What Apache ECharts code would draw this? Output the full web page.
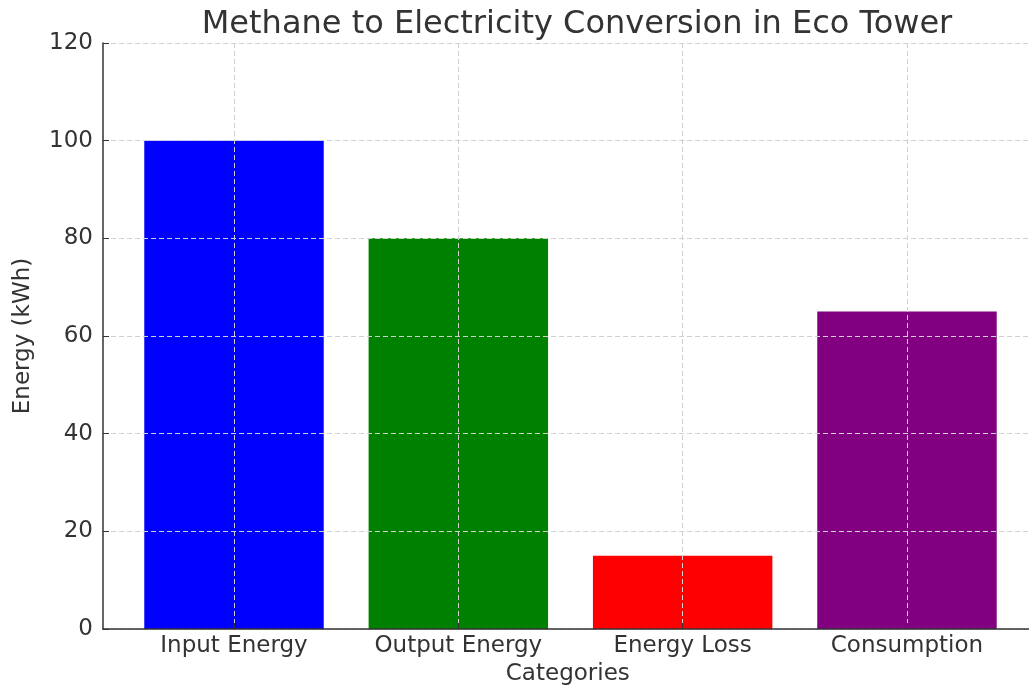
<!DOCTYPE html>
<html>
<head>
<meta charset="utf-8">
<script src="https://cdn.jsdelivr.net/npm/echarts@6/dist/echarts.min.js"></script>
<style>
  html, body { margin: 0; padding: 0; background: #fff; }
  #main { width: 1029px; height: 686px; }
</style>
</head>
<body>
<div id="main"></div>
<script>
// chart data
const categories = ['Input Energy', 'Output Energy', 'Energy Loss', 'Consumption']
const energyValues = [100, 80, 15, 65]
const yTicks = [0, 20, 40, 60, 80, 100, 120]

const barColors = ['#0000ff', '#008000', '#ff0000', '#800080']
const font = 'DejaVu Sans'
const gridLine = { show: true, lineStyle: { color: '#d0d0d0', type: [5, 3], width: 1 } }

let myChart = echarts.init(document.getElementById('main'))
let option = {
  animation: false,
  title: {
    text: 'Methane to Electricity Conversion in Eco Tower',
    left: 572,
    textAlign: 'center',
    top: 4,
    textStyle: { fontFamily: font, fontSize: 32, fontWeight: 'normal', color: '#333' }
  },
  grid: { left: 103, right: -3.6, top: 43, bottom: 57, containLabel: false, outerBoundsMode: 'none' },
  xAxis: {
    type: 'value',
    min: -0.584,
    max: 3.56,
    z: 5,
    name: 'Categories',
    nameLocation: 'middle',
    nameGap: 32,
    nameTextStyle: { fontFamily: font, fontSize: 23, color: '#333' },
    axisLine: { show: true, onZero: false, lineStyle: { color: '#333', width: 1.5 } },
    axisTick: { show: true, inside: true, length: 6, customValues: categories.map((c, i) => i), lineStyle: { color: '#333' } },
    axisLabel: {
      customValues: categories.map((c, i) => i),
      formatter: v => categories[Math.round(v)],
      margin: 6,
      fontFamily: font, fontSize: 23, color: '#333'
    },
    splitLine: gridLine
  },
  yAxis: {
    type: 'value',
    min: yTicks[0],
    max: yTicks[yTicks.length - 1],
    interval: yTicks[1] - yTicks[0],
    z: 5,
    name: 'Energy (kWh)',
    nameLocation: 'middle',
    nameGap: 68,
    nameRotate: 90,
    nameTextStyle: { fontFamily: font, fontSize: 23, color: '#333' },
    axisLine: { show: true, onZero: false, lineStyle: { color: '#333', width: 1.5 } },
    axisTick: { show: true, inside: true, length: 6, lineStyle: { color: '#333' } },
    axisLabel: { margin: 10, fontFamily: font, fontSize: 23, color: '#333' },
    splitLine: gridLine
  },
  series: [{
    type: 'bar',
    barWidth: '80%',
    data: categories.map((c, i) => ({
      value: [i, energyValues[i]],
      itemStyle: { color: barColors[i] }
    }))
  }]
}
myChart.setOption(option)
</script>
</body>
</html>
